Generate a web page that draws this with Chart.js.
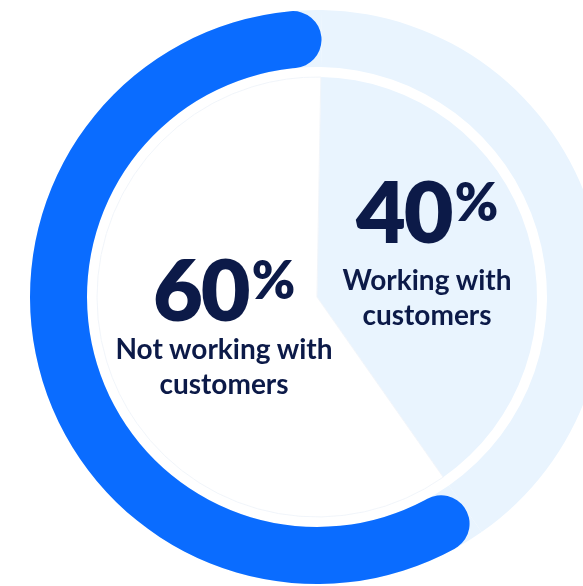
<!DOCTYPE html>
<html>
<head>
<meta charset="utf-8">
<script src="https://cdn.jsdelivr.net/npm/chart.js@4.4.1/dist/chart.umd.min.js"></script>
<style>
  html, body { margin: 0; padding: 0; background: #fff; overflow: hidden; }
  body { width: 583px; height: 586px; position: relative; font-family: Lato, "Noto Sans", sans-serif; color: #0c1a48; }
  .layer { position: absolute; left: 17px; top: -3px; width: 600px; height: 600px; }
  .lbl { position: absolute; transform: translateX(-50%); text-align: center; white-space: nowrap; }
  .pct { font-size: 86px; font-weight: 800; line-height: 86px; letter-spacing: -2px; }
  .pct sup { font-size: 52px; font-weight: 800; vertical-align: top; line-height: 52px; position: relative; top: 8px; margin-left: 3px; letter-spacing: 0; }
  .txt { font-size: 28px; font-weight: 700; line-height: 35px; }
  #lblWork .txt { margin-top: 9px; }
</style>
</head>
<body>
<canvas id="track" class="layer" width="600" height="600"></canvas>
<canvas id="ring" class="layer" width="600" height="600"></canvas>
<canvas id="pie" class="layer" width="600" height="600"></canvas>
<div id="lblWork" class="lbl" style="left:427px; top:167px;"></div>
<div id="lblNot" class="lbl" style="left:224px; top:245px;"></div>

<script>
// share of respondents, in percent
var categories = ["Working with customers", "Not working with customers"];
var labelLines = [["Working with", "customers"], ["Not working with", "customers"]];
var shares = [40, 60];

var blue = "#0a6cff";
var paleBlue = "#e9f4fe";

// ring band in px: outer 287, inner 230 (cutout is relative to the outer radius)
var ringOuter = 287;
var ringCutout = (230 / 287 * 100).toFixed(2) + "%";

var common = {
    responsive: false,
    animation: false,
    events: [],
    rotation: 1,
    plugins: { legend: { display: false }, tooltip: { enabled: false } }
};

// outer light track, full circle
new Chart(document.getElementById("track"), {
    type: "doughnut",
    data: {
        labels: categories,
        datasets: [{
            data: shares,
            backgroundColor: paleBlue,
            borderWidth: 0,
            radius: ringOuter,
            cutout: ringCutout
        }]
    },
    options: common
});

// rounded blue arc for the 60%
new Chart(document.getElementById("ring"), {
    type: "doughnut",
    data: {
        labels: categories,
        datasets: [{
            data: shares,
            backgroundColor: ["rgba(0,0,0,0)", blue],
            borderWidth: 0,
            borderRadius: [0, 29],
            radius: ringOuter,
            cutout: ringCutout
        }]
    },
    options: common
});

// inner pie, 40% shaded, faint rim on the white part
new Chart(document.getElementById("pie"), {
    type: "pie",
    data: {
        labels: categories,
        datasets: [{
            data: shares,
            backgroundColor: [paleBlue, "#ffffff"],
            borderColor: [paleBlue, "#f1f5fa"],
            borderWidth: [0, 1],
            radius: 220
        }]
    },
    options: common
});

function fillLabel(id, i) {
    var el = document.getElementById(id);
    el.innerHTML = '<div class="pct">' + shares[i] + '<sup>%</sup></div>' +
        '<div class="txt">' + labelLines[i].join("<br>") + '</div>';
}
fillLabel("lblWork", 0);
fillLabel("lblNot", 1);
</script>
</body>
</html>
